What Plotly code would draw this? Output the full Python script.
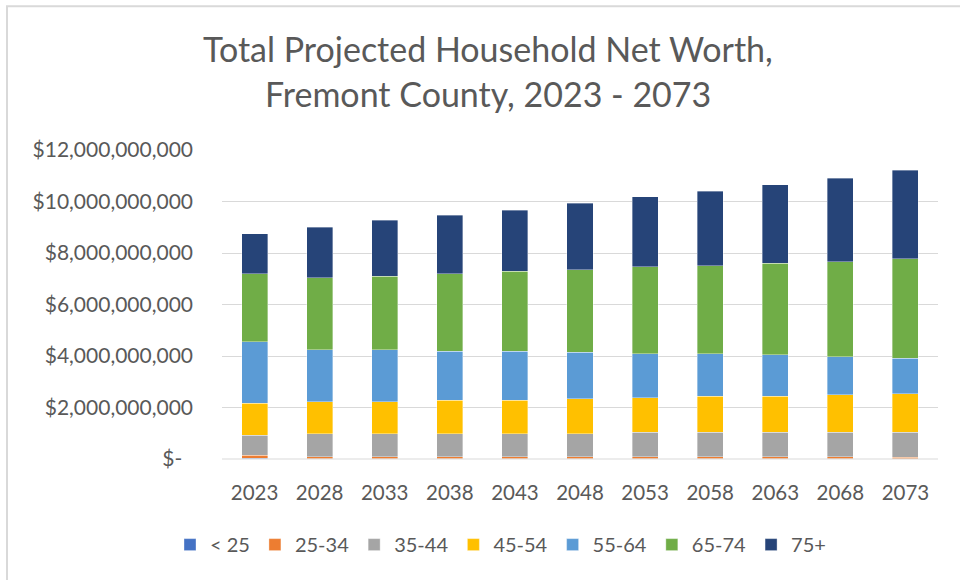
import plotly.graph_objects as go

years = ["2023", "2028", "2033", "2038", "2043", "2048", "2053", "2058", "2063", "2068", "2073"]

# values in billions of dollars
age_lt25 = [0.02, 0.01, 0.01, 0.01, 0.01, 0.01, 0.01, 0.01, 0.01, 0.01, 0.01]
age_25_34 = [0.13, 0.08, 0.08, 0.08, 0.08, 0.08, 0.08, 0.08, 0.08, 0.08, 0.05]
age_35_44 = [0.78, 0.89, 0.89, 0.89, 0.89, 0.89, 0.94, 0.94, 0.94, 0.94, 0.97]
age_45_54 = [1.24, 1.24, 1.24, 1.30, 1.30, 1.36, 1.35, 1.40, 1.40, 1.46, 1.51]
age_55_64 = [2.38, 2.02, 2.02, 1.91, 1.91, 1.80, 1.71, 1.66, 1.61, 1.49, 1.38]
age_65_74 = [2.65, 2.80, 2.85, 3.01, 3.11, 3.21, 3.37, 3.42, 3.57, 3.68, 3.85]
age_75p = [1.54, 1.96, 2.18, 2.26, 2.37, 2.59, 2.73, 2.88, 3.05, 3.25, 3.45]

series_names = ["< 25", "25-34", "35-44", "45-54", "55-64", "65-74", "75+"]
series_values = [age_lt25, age_25_34, age_35_44, age_45_54, age_55_64, age_65_74, age_75p]
series_colors = ["#4472C4", "#ED7D31", "#A5A5A5", "#FFC000", "#5B9BD5", "#70AD47", "#264478"]

tick_vals = [0, 2e9, 4e9, 6e9, 8e9, 10e9, 12e9]
tick_text = ["$-\u00a0\u00a0", "$2,000,000,000", "$4,000,000,000", "$6,000,000,000",
             "$8,000,000,000", "$10,000,000,000", "$12,000,000,000"]

title_line1 = "Total Projected Household Net Worth,"
title_line2 = "Fremont County, 2023 - 2073"

FONT = "Lato"
GRAY = "#595959"

fig = go.Figure()
for name, vals, col in zip(series_names, series_values, series_colors):
    fig.add_trace(go.Bar(
        x=years, y=[v * 1e9 for v in vals], name=name,
        marker=dict(color=col, line=dict(color="rgba(255,255,255,0.6)", width=0.6)),
    ))

# plot area: x 222..938 px, y 150..459.3 px
L, R, T, B = 222, 938, 150, 459.3
W, H = R - L, B - T
def px(xp):
    return (xp - L) / W
def py(yp):
    return (B - yp) / H

fig.update_layout(
    barmode="stack",
    bargap=0.6,
    width=960, height=580,
    margin=dict(l=L, r=960 - R, t=T, b=580 - B, pad=0),
    paper_bgcolor="white", plot_bgcolor="white",
    font=dict(family=FONT, size=20, color=GRAY),
    showlegend=True,
    legend=dict(orientation="h", x=px(170), xanchor="left", y=py(545), yanchor="middle",
                font=dict(family=FONT, size=20, color=GRAY), traceorder="normal",
                bgcolor="rgba(0,0,0,0)"),
    xaxis=dict(showgrid=False, showline=False, ticks="", tickfont=dict(size=20.5, color=GRAY),
               ticklabelstandoff=19),
    yaxis=dict(range=[0, 12e9], tickvals=tick_vals, ticktext=tick_text,
               showgrid=True, gridcolor="#D9D9D9", gridwidth=1, zeroline=False,
               showline=False, ticks="", tickfont=dict(size=21, color=GRAY),
               ticklabelstandoff=28),
    annotations=[
        dict(text=title_line1, x=px(488), y=py(48), xref="paper", yref="paper",
             xanchor="center", yanchor="middle", showarrow=False,
             font=dict(family=FONT, size=34, color=GRAY)),
        dict(text=title_line2, x=px(488), y=py(93.5), xref="paper", yref="paper",
             xanchor="center", yanchor="middle", showarrow=False,
             font=dict(family=FONT, size=34, color=GRAY)),
    ],
    shapes=[
        dict(type="line", xref="paper", yref="paper", x0=px(7), x1=px(7), y0=py(6), y1=py(585),
             line=dict(color="#D9D9D9", width=2)),
        dict(type="line", xref="paper", yref="paper", x0=px(6), x1=px(965), y0=py(6), y1=py(6),
             line=dict(color="#D9D9D9", width=2)),
        dict(type="line", xref="paper", yref="paper", x0=0, x1=1, y0=0, y1=0,
             line=dict(color="#D9D9D9", width=1)),
    ],
)

fig.write_html("out.html",
               config={"displayModeBar": False},
               post_script="document.body.style.margin='0';document.body.style.overflow='hidden';")
